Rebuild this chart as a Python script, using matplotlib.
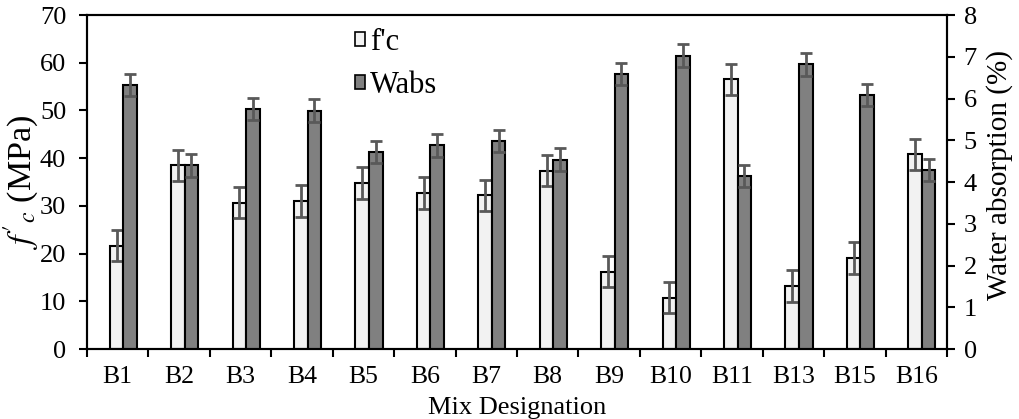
import numpy as np
import matplotlib
matplotlib.use("Agg")
import matplotlib.pyplot as plt
from matplotlib.patches import Patch

# Data
mixes = ["B1", "B2", "B3", "B4", "B5", "B6", "B7", "B8",
         "B9", "B10", "B11", "B13", "B15", "B16"]
fc = [21.7, 38.5, 30.7, 31.0, 34.8, 32.7, 32.2, 37.4,
      16.2, 10.8, 56.5, 13.2, 19.1, 40.8]
fc_err = [3.3, 3.3, 3.3, 3.3, 3.3, 3.3, 3.3, 3.3,
          3.3, 3.3, 3.3, 3.3, 3.3, 3.3]
wabs = [6.33, 4.40, 5.75, 5.71, 4.72, 4.88, 4.98, 4.54,
        6.59, 7.03, 4.14, 6.82, 6.09, 4.29]
wabs_err = [0.27, 0.27, 0.27, 0.27, 0.27, 0.27, 0.27, 0.27,
            0.27, 0.27, 0.27, 0.27, 0.27, 0.27]

plt.rcParams['font.family'] = ['Liberation Serif', 'DejaVu Serif']
plt.rcParams['mathtext.fontset'] = 'stix'
fs_tick = 18.5
fs_lab = 21

fig = plt.figure(figsize=(10.19, 4.19), dpi=100)
ax = fig.add_axes([0.0854, 0.167, 0.8440, 0.797])
ax2 = ax.twinx()

x = np.arange(len(mixes))
w = 0.22
light = '#f2f2f2'
dark = '#808080'
errc = '#595959'

ax.bar(x - 0.02, fc, w, color=light, edgecolor='black', linewidth=1.5, zorder=2)
ax.errorbar(x - 0.02, fc, yerr=fc_err, fmt='none', ecolor=errc,
            elinewidth=2, capsize=4.5, capthick=2, zorder=3)
ax2.bar(x + 0.2, wabs, w, color=dark, edgecolor='black', linewidth=1.5, zorder=2)
ax2.errorbar(x + 0.2, wabs, yerr=wabs_err, fmt='none', ecolor=errc,
             elinewidth=2, capsize=4.5, capthick=2, zorder=3)

ax.set_xlim(-0.5, len(mixes) - 0.5)
ax.set_ylim(0, 70)
ax2.set_ylim(0, 8)
ax.set_yticks(np.arange(0, 71, 10))
ax2.set_yticks(np.arange(0, 9, 1))

# category labels centred, tick marks on the boundaries
ax.set_xticks(x)
ax.set_xticklabels(mixes, fontsize=fs_tick)
ax.set_xticks(np.arange(-0.5, len(mixes), 1), minor=True)
ax.tick_params(axis='x', which='major', length=0, pad=12)
ax.tick_params(axis='x', which='minor', length=6, width=1.5, direction='out')
ax.tick_params(axis='y', labelsize=fs_tick + 0.5, length=6, width=1.5, direction='out', pad=9)
ax2.tick_params(axis='y', labelsize=fs_tick + 0.5, length=6, width=1.5, direction='out', pad=6)

for a in (ax, ax2):
    for s in a.spines.values():
        s.set_linewidth(1.5)

ax.set_xlabel("Mix Designation", fontsize=fs_tick + 0.5, labelpad=7)
ax.set_ylabel(r"$f'_c$ (MPa)", fontsize=24.5, labelpad=0)
ax2.set_ylabel("Water absorption (%)", fontsize=fs_lab)
ax2.yaxis.set_label_coords(1.045, 0.52)

handles = [Patch(facecolor=light, edgecolor='black', linewidth=1.2),
           Patch(facecolor=dark, edgecolor='black', linewidth=1.2)]
ax2.legend(handles, ["f'c", "Wabs"], loc='upper left',
           bbox_to_anchor=(0.312, 0.962), frameon=False, fontsize=22,
           handlelength=0.33, handleheight=0.33, handletextpad=0.15,
           labelspacing=0.48, borderpad=0, borderaxespad=0)

fig.savefig("out.png", dpi=100)
